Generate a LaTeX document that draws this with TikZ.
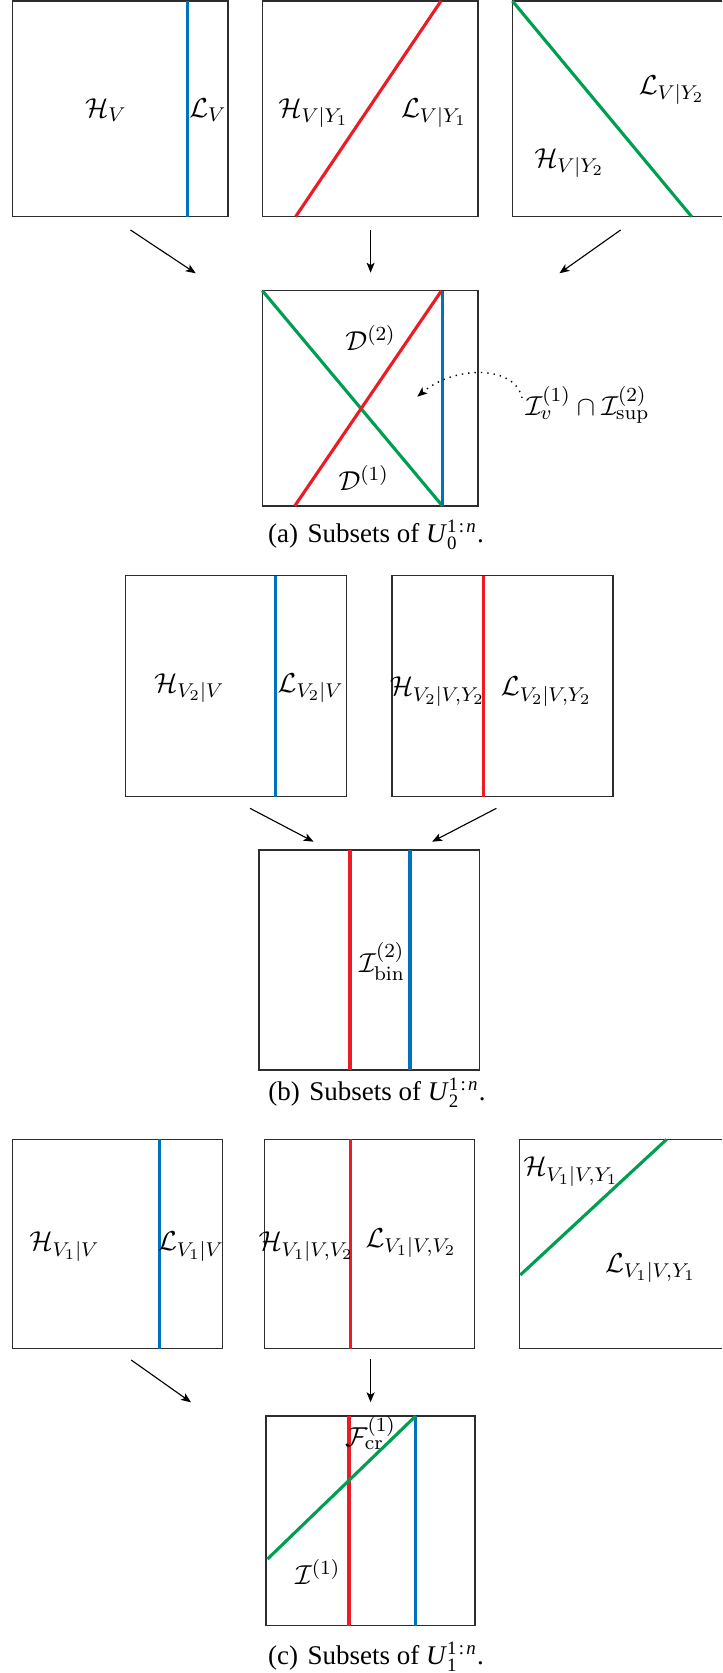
\documentclass[tikz,border=0pt]{standalone}
\usepackage{amsmath}
\usepackage[no-math]{fontspec}
\newfontfamily\capfont{Liberation Serif}
\usetikzlibrary{arrows.meta}
\definecolor{mblue}{RGB}{0,114,189}
\definecolor{mred}{RGB}{237,28,36}
\definecolor{mgreen}{RGB}{0,158,80}
\definecolor{bordc}{RGB}{45,45,45}
\newcommand{\capsup}{\text{1\kern0.12em:\kern0.12em\textit{n}}}
\tikzset{
  boxst/.style={draw=bordc, line width=0.6pt},
  bl/.style={mblue, line width=1.25pt},
  rl/.style={mred, line width=1.25pt},
  gl/.style={mgreen, line width=1.25pt},
  arr/.style={black, line width=0.45pt, -{Stealth[length=4pt,width=3.2pt,inset=1pt]}},
  darr/.style={black, line width=0.55pt, dotted, -{Stealth[length=4pt,width=3.2pt,inset=1pt]}},
  lab/.style={inner sep=0pt, font=\fontsize{11.2}{13.5}\selectfont},
  captxt/.style={inner sep=0pt, font=\capfont\fontsize{10.8}{13}\selectfont}
}
\begin{document}
\begin{tikzpicture}[x=0.4pt,y=-0.4pt]
\useasboundingbox (0,0) rectangle (722,1673);
% ---------------- panel (a) ----------------
\draw[boxst] (12.4,1) rectangle (227.9,216.7);
\draw[bl] (187.8,1) -- (187.8,216.7);
\node[lab] (hv) at (105.9,110) {$\mathcal{H}_V$};
\node[lab] (lv) at (207.9,110) {$\mathcal{L}_V$};

\draw[boxst] (262.4,1) rectangle (477.9,216.7);
\draw[rl] (295.6,216.7) -- (441,1);
\node[lab] (hvy1) at (313.5,113) {$\mathcal{H}_{V|Y_1}$};
\node[lab] (lvy1) at (434,113) {$\mathcal{L}_{V|Y_1}$};

\draw[boxst] (722,1) -- (512.4,1) -- (512.4,216.7) -- (722,216.7);
\draw[gl] (512.4,1) -- (691.7,216.7);
\node[lab] (lvy2) at (671.7,90) {$\mathcal{L}_{V|Y_2}$};
\node[lab] (hvy2) at (569.3,163.3) {$\mathcal{H}_{V|Y_2}$};

\coordinate (a1s) at (130.5,230);   \coordinate (a1e) at (195.7,273.3);
\coordinate (a2s) at (370.6,230);   \coordinate (a2e) at (370.6,272.7);
\coordinate (a3s) at (620.6,230);   \coordinate (a3e) at (559.4,273.3);
\draw[arr] (a1s) -- (a1e);
\draw[arr] (a2s) -- (a2e);
\draw[arr] (a3s) -- (a3e);

\draw[boxst] (262.4,290.7) rectangle (477.9,506);
\draw[gl] (262.4,290.7) -- (442.5,506);
\draw[rl] (294.7,506) -- (441.5,290.7);
\draw[bl] (442.3,290.7) -- (442.3,506);
\node[lab] (d2) at (370.6,338.3) {$\mathcal{D}^{(2)}$};
\node[lab] (d1) at (363.7,478.3) {$\mathcal{D}^{(1)}$};
\node[lab] (ivs) at (587.5,405) {$\mathcal{I}_v^{(1)}\cap\mathcal{I}_{\mathrm{sup}}^{(2)}$};
\coordinate (ivt) at (417.3,396.7);
\draw[darr] (ivs.west) ++(-3,-7) .. controls (515,365) and (455,365) .. (ivt);
\node[captxt] (capa) at (376,535) {(a)\kern0.1em{} Subsets of \textit{U}$_{\text{0}}^{\capsup}$.};

% ---------------- panel (b) ----------------
\draw[boxst] (125.7,575.7) rectangle (346.4,796.7);
\draw[bl] (275.7,575.7) -- (275.7,796.7);
\node[lab] (hv2v) at (189.3,688.3) {$\mathcal{H}_{V_2|V}$};
\node[lab] (lv2v) at (310.7,688.3) {$\mathcal{L}_{V_2|V}$};

\draw[boxst] (391.8,575.7) rectangle (613.2,796.7);
\draw[rl] (483.9,575.7) -- (483.9,796.7);
\node[lab] (hv2vy2) at (437.5,691.7) {$\mathcal{H}_{V_2|V,Y_2}$};
\node[lab] (lv2vy2) at (546.4,691.7) {$\mathcal{L}_{V_2|V,Y_2}$};

\coordinate (b1s) at (250,808.3);   \coordinate (b1e) at (313.6,841.7);
\coordinate (b2s) at (496.4,808.3); \coordinate (b2e) at (432.1,841.7);
\draw[arr] (b1s) -- (b1e);
\draw[arr] (b2s) -- (b2e);

\draw[boxst] (258.9,850) rectangle (479.6,1070);
\draw[rl] (350,850) -- (350,1070);
\draw[bl] (410,850) -- (410,1070);
\node[lab] (ibin) at (382,961.7) {$\mathcal{I}_{\mathrm{bin}}^{(2)}$};
\node[captxt] (capb) at (377,1092.7) {(b)\kern0.1em{} Subsets of \textit{U}$_{\text{2}}^{\capsup}$.};

% ---------------- panel (c) ----------------
\draw[boxst] (12.4,1139.3) rectangle (222.4,1348.7);
\draw[bl] (159.3,1139.3) -- (159.3,1348.7);
\node[lab] (hv1v) at (64.5,1246.7) {$\mathcal{H}_{V_1|V}$};
\node[lab] (lv1v) at (191,1246.7) {$\mathcal{L}_{V_1|V}$};

\draw[boxst] (264.7,1139.3) rectangle (474.7,1348.7);
\draw[rl] (350.8,1139.3) -- (350.8,1348.7);
\node[lab] (hv1vv2) at (306.2,1246.7) {$\mathcal{H}_{V_1|V,V_2}$};
\node[lab] (lv1vv2) at (411.1,1243) {$\mathcal{L}_{V_1|V,V_2}$};

\draw[boxst] (722,1139.3) -- (519.3,1139.3) -- (519.3,1348.7) -- (722,1348.7);
\draw[gl] (520.3,1275) -- (666.7,1139.3);
\node[lab] (hv1vy1) at (570.9,1171.7) {$\mathcal{H}_{V_1|V,Y_1}$};
\node[lab] (lv1vy1) at (650.6,1268) {$\mathcal{L}_{V_1|V,Y_1}$};

\coordinate (c1s) at (131.2,1360);  \coordinate (c1e) at (191,1402.3);
\coordinate (c2s) at (370.6,1359.3); \coordinate (c2e) at (370.6,1402.3);
\draw[arr] (c1s) -- (c1e);
\draw[arr] (c2s) -- (c2e);

\draw[boxst] (266.1,1416) rectangle (475.1,1625.7);
\draw[rl] (349,1416) -- (349,1625.7);
\draw[bl] (415.7,1416) -- (415.7,1625.7);
\draw[gl] (267.5,1559) -- (415.7,1416);
\node[lab] (fcr) at (370.6,1433.3) {$\mathcal{F}_{\mathrm{cr}}^{(1)}$};
\node[lab] (i1) at (317.7,1571.7) {$\mathcal{I}^{(1)}$};
\node[captxt] (capc) at (376,1656.7) {(c)\kern0.1em{} Subsets of \textit{U}$_{\text{1}}^{\capsup}$.};
\end{tikzpicture}
\end{document}
